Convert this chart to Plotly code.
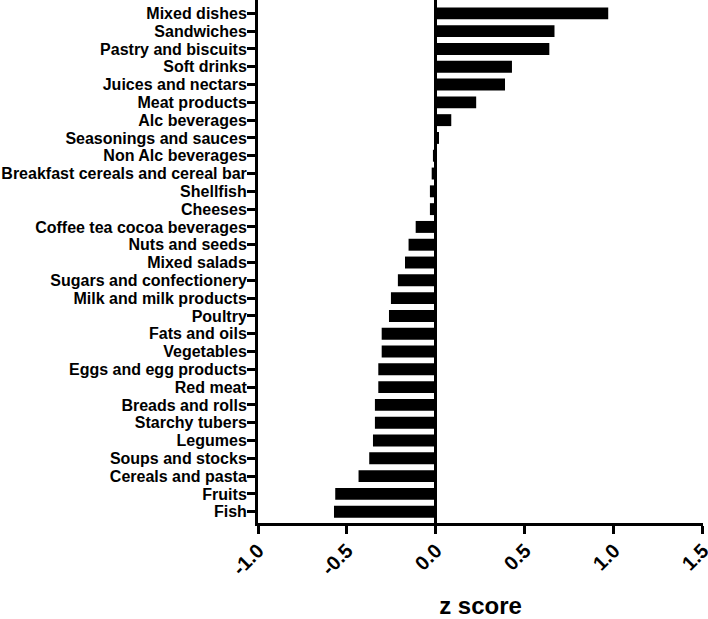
import plotly.graph_objects as go

categories = [
    "Mixed dishes", "Sandwiches", "Pastry and biscuits", "Soft drinks",
    "Juices and nectars", "Meat products", "Alc beverages",
    "Seasonings and sauces", "Non Alc beverages",
    "Breakfast cereals and cereal bar", "Shellfish", "Cheeses",
    "Coffee tea cocoa beverages", "Nuts and seeds", "Mixed salads",
    "Sugars and confectionery", "Milk and milk products", "Poultry",
    "Fats and oils", "Vegetables", "Eggs and egg products", "Red meat",
    "Breads and rolls", "Starchy tubers", "Legumes", "Soups and stocks",
    "Cereals and pasta", "Fruits", "Fish",
]
z_scores = [
    0.968, 0.666, 0.637, 0.427, 0.388, 0.226, 0.086, 0.017, -0.017,
    -0.024, -0.034, -0.034, -0.114, -0.154, -0.174, -0.214, -0.253,
    -0.264, -0.305, -0.305, -0.324, -0.324, -0.343, -0.343, -0.354,
    -0.375, -0.435, -0.566, -0.573,
]
x_ticks = [-1.0, -0.5, 0.0, 0.5, 1.0, 1.5]
x_tick_labels = ["-1.0", "-0.5", "0.0", "0.5", "1.0", "1.5"]

# bottom-to-top order for plotting
cats_plot = categories[::-1]
vals_plot = z_scores[::-1]

fig = go.Figure(
    go.Bar(
        x=vals_plot,
        y=cats_plot,
        orientation="h",
        marker=dict(color="black", line=dict(width=0)),
        width=0.67,
    )
)

font_family = "Liberation Sans, Arial, sans-serif"

fig.update_layout(
    width=708,
    height=619,
    margin=dict(l=258, r=5, t=0, b=96, autoexpand=False),
    paper_bgcolor="white",
    plot_bgcolor="white",
    showlegend=False,
)

fig.update_xaxes(
    range=[-1.0, 1.5005],
    tickmode="array",
    tickvals=x_ticks,
    ticktext=x_tick_labels,
    tickangle=-45,
    tickfont=dict(family=font_family, size=20, color="black", weight="bold"),
    ticklabeloverflow="allow",
    ticklabelstandoff=-3,
    ticks="outside",
    ticklen=8,
    tickwidth=3,
    tickcolor="black",
    showline=True,
    linecolor="black",
    linewidth=3,
    showgrid=False,
    zeroline=True,
    zerolinecolor="black",
    zerolinewidth=3,
    automargin=False,
    title=dict(
        text="z score",
        font=dict(family=font_family, size=24, color="black", weight="bold"),
        standoff=24,
    ),
)

fig.update_yaxes(
    type="category",
    categoryorder="array",
    categoryarray=cats_plot,
    tickmode="array",
    tickvals=cats_plot,
    ticktext=cats_plot,
    range=[-0.635, 28.75],
    tickfont=dict(family=font_family, size=16, color="black", weight="bold"),
    ticklabelstandoff=-3,
    ticks="outside",
    ticklen=8,
    tickwidth=3,
    tickcolor="black",
    showline=True,
    linecolor="black",
    linewidth=3,
    showgrid=False,
    automargin=False,
)

fig.write_html(
    "out.html",
    config={"displayModeBar": False},
    post_script="document.body.style.margin='0';document.body.style.padding='0';",
)
